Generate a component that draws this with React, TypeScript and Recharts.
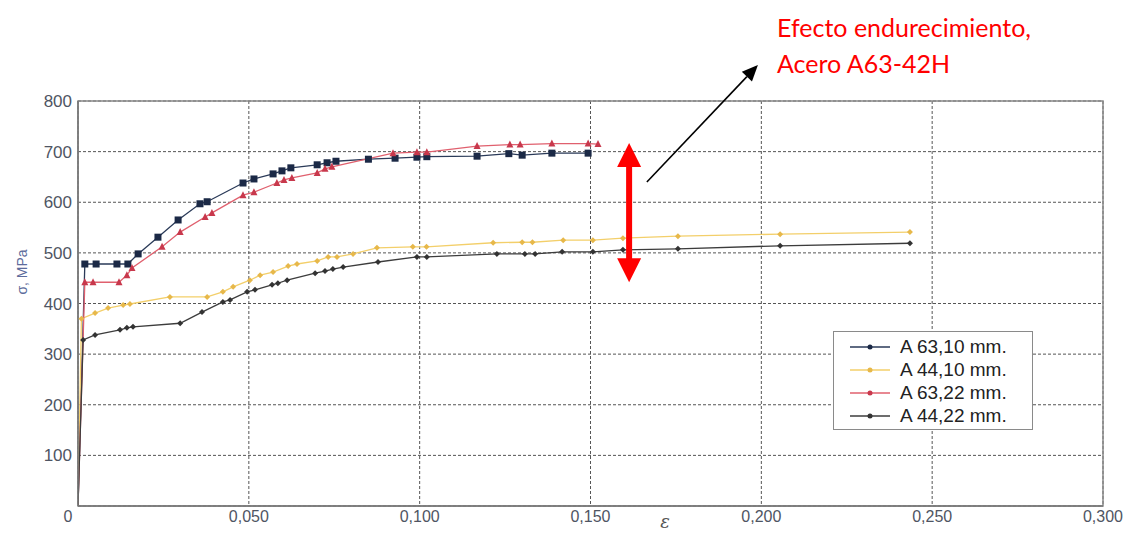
import React from 'react';
import { LineChart, Line, XAxis, YAxis, CartesianGrid, ReferenceArea, ReferenceLine } from 'recharts';

// strain (ε) ticks and stress (MPa) ticks
const X_TICKS = [0, 0.05, 0.1, 0.15, 0.2, 0.25, 0.3];
const Y_TICKS = [0, 100, 200, 300, 400, 500, 600, 700, 800];

// [ε, σ]; each curve starts at the origin
const A63_10 = [
  [0, 0], [0.002, 478], [0.0053, 478], [0.0114, 478], [0.0146, 478], [0.0176, 498], [0.0234, 531],
  [0.0293, 565], [0.0357, 597], [0.0378, 601], [0.0483, 638], [0.0515, 646], [0.0571, 656],
  [0.0597, 662], [0.0623, 668], [0.07, 674], [0.0729, 678], [0.0755, 681], [0.085, 685],
  [0.0928, 687], [0.0992, 689], [0.1021, 690], [0.1168, 691], [0.1261, 696], [0.13, 693],
  [0.1387, 697], [0.1493, 697],
];
const A44_10 = [
  [0, 0], [0.001, 370], [0.005, 381], [0.0088, 391], [0.0132, 397], [0.0152, 399], [0.0269, 413],
  [0.0378, 413], [0.0424, 423], [0.0454, 433], [0.0503, 446], [0.0533, 456], [0.0571, 462],
  [0.0615, 474], [0.0641, 478], [0.07, 484], [0.0732, 492], [0.0758, 492], [0.0805, 498],
  [0.0875, 510], [0.098, 512], [0.102, 512], [0.1215, 520], [0.13, 521], [0.133, 521],
  [0.142, 525], [0.1507, 525], [0.1595, 529], [0.1756, 533], [0.2055, 537], [0.2435, 541],
];
const A63_22 = [
  [0, 0], [0.002, 442], [0.0044, 442], [0.012, 442], [0.0143, 456], [0.0158, 470], [0.0246, 512],
  [0.0299, 541], [0.0372, 571], [0.0392, 579], [0.0483, 614], [0.0515, 620], [0.0582, 638],
  [0.0603, 644], [0.0626, 648], [0.07, 658], [0.0723, 666], [0.0743, 670], [0.0922, 697],
  [0.0992, 699], [0.1021, 699], [0.1168, 711], [0.1264, 714], [0.1294, 714], [0.1387, 716],
  [0.1493, 716], [0.1522, 715],
];
const A44_22 = [
  [0, 0], [0.0015, 328], [0.005, 338], [0.0123, 348], [0.0143, 352], [0.0161, 354], [0.0299, 361],
  [0.0363, 383], [0.0424, 403], [0.0445, 407], [0.0495, 423], [0.0518, 427], [0.0568, 437],
  [0.0585, 440], [0.0612, 446], [0.0694, 460], [0.0723, 464], [0.0746, 468], [0.0776, 472],
  [0.0878, 482], [0.0992, 492], [0.1021, 492], [0.1226, 498], [0.1308, 498], [0.1338, 498],
  [0.1417, 502], [0.1507, 502], [0.1595, 506], [0.1756, 508], [0.2055, 514], [0.2435, 519],
];

const SERIES = [
  { name: 'A 63,10 mm.', data: A63_10, line: '#2a3a58', fill: '#1b2946', marker: 'square' },
  { name: 'A 44,10 mm.', data: A44_10, line: '#f3cf6a', fill: '#e7b84a', marker: 'diamond' },
  { name: 'A 63,22 mm.', data: A63_22, line: '#e0606e', fill: '#c8384c', marker: 'triangle' },
  { name: 'A 44,22 mm.', data: A44_22, line: '#3c3c3c', fill: '#333333', marker: 'diamond' },
];

const toPoints = (arr: number[][]) => arr.map(([x, y]) => ({ x, y }));

const fmtX = (v: number) => (v === 0 ? '0' : v.toFixed(3).replace('.', ','));

const TICK_FONT = '"Liberation Sans", Arial, sans-serif';

const makeDot = (marker: string, fill: string) => (props: any) => {
  const { cx, cy, index, payload } = props;
  const key = `d-${index}`;
  if (payload.y === 0 || cx == null) return <g key={key} />;
  if (marker === 'square') {
    return <rect key={key} x={cx - 3.5} y={cy - 3.5} width={7} height={7} fill={fill} />;
  }
  if (marker === 'triangle') {
    return <polygon key={key} points={`${cx},${cy - 4} ${cx + 3.5},${cy + 3} ${cx - 3.5},${cy + 3}`} fill={fill} />;
  }
  return <polygon key={key} points={`${cx},${cy - 3} ${cx + 3},${cy} ${cx},${cy + 3} ${cx - 3},${cy}`} fill={fill} />;
};

const XTick = (props: any) => {
  const { x, y, payload } = props;
  const dx = payload.value === 0 ? -10 : 0;
  return (
    <text x={x + dx} y={y} dy="0.71em" textAnchor="middle" fill="#4f5563" fontSize={16} fontFamily={TICK_FONT}>
      {fmtX(payload.value)}
    </text>
  );
};

const YTick = (props: any) => {
  const { x, y, payload } = props;
  if (payload.value === 0) return <g />;
  return (
    <text x={x} y={y} dy="0.36em" textAnchor="end" fill="#4f5563" fontSize={17} fontFamily={TICK_FONT}>
      {payload.value}
    </text>
  );
};

// thick red double-headed arrow
const DoubleArrow = (p: any) => {
  const { x1, y1, y2 } = p;
  const x = x1;
  const top = Math.min(y1, y2);
  const bot = Math.max(y1, y2);
  const head = 24;
  const hw = 12;
  return (
    <g>
      <rect x={x - 3} y={top + head - 2} width={6} height={bot - top - 2 * head + 4} fill="#ff0000" />
      <polygon points={`${x},${top} ${x + hw},${top + head} ${x - hw},${top + head}`} fill="#ff0000" />
      <polygon points={`${x},${bot} ${x + hw},${bot - head} ${x - hw},${bot - head}`} fill="#ff0000" />
    </g>
  );
};

// thin black pointer arrow
const Pointer = (p: any) => {
  const { x1, y1, x2, y2 } = p;
  const ang = Math.atan2(y2 - y1, x2 - x1);
  const len = 16;
  const w = 7;
  const bx = x2 - len * Math.cos(ang);
  const by = y2 - len * Math.sin(ang);
  const nx = -Math.sin(ang) * w;
  const ny = Math.cos(ang) * w;
  return (
    <g>
      <line x1={x1} y1={y1} x2={bx} y2={by} stroke="#000" strokeWidth={1.6} />
      <polygon points={`${x2},${y2} ${bx + nx},${by + ny} ${bx - nx},${by - ny}`} fill="#000" />
    </g>
  );
};

export default function App() {
  return (
    <div style={{ position: 'absolute', left: 0, top: 0, width: 1144, height: 536, background: '#fff', overflow: 'hidden' }}>
      <LineChart width={1144} height={536} margin={{ top: 101, right: 41, bottom: 0, left: 18 }}>
        <CartesianGrid stroke="#555" strokeDasharray="3 2" strokeWidth={1} />
        <XAxis
          type="number"
          dataKey="x"
          domain={[0, 0.3]}
          ticks={X_TICKS}
          height={30}
          tickLine={false}
          tickSize={0}
          tickMargin={5}
          axisLine={{ stroke: '#777', strokeWidth: 1.5 }}
          tick={<XTick />}
          allowDataOverflow
        />
        <YAxis
          type="number"
          dataKey="y"
          domain={[0, 800]}
          ticks={Y_TICKS}
          width={60}
          tickLine={false}
          tickSize={0}
          tickMargin={6}
          axisLine={{ stroke: '#777', strokeWidth: 1.5 }}
          tick={<YTick />}
          allowDataOverflow
        />
        <ReferenceArea x1={0} x2={0.3} y1={0} y2={800} fill="none" stroke="#888" strokeWidth={1.5} />
        {SERIES.map((s) => (
          <Line
            key={s.name}
            data={toPoints(s.data)}
            dataKey="y"
            name={s.name}
            type="linear"
            stroke={s.line}
            strokeWidth={1.3}
            dot={makeDot(s.marker, s.fill)}
            activeDot={false}
            isAnimationActive={false}
          />
        ))}
        <ReferenceLine
          segment={[{ x: 0.1613, y: 442 }, { x: 0.1613, y: 717 }]}
          ifOverflow="visible"
          shape={DoubleArrow}
        />
        <ReferenceLine
          segment={[{ x: 0.1665, y: 640 }, { x: 0.199, y: 871 }]}
          ifOverflow="visible"
          shape={Pointer}
        />
      </LineChart>

      {/* y axis label */}
      <div
        style={{
          position: 'absolute',
          left: 22,
          top: 272,
          transform: 'translate(-50%, -50%) rotate(-90deg)',
          fontFamily: TICK_FONT,
          fontSize: 14,
          color: '#5d6c9c',
          whiteSpace: 'nowrap',
        }}
      >
        σ, MPa
      </div>

      {/* x axis label */}
      <div
        style={{
          position: 'absolute',
          left: 665,
          top: 522,
          transform: 'translate(-50%, -50%)',
          fontFamily: '"DejaVu Serif", serif',
          fontStyle: 'italic',
          fontSize: 18,
          lineHeight: '20px',
          color: '#555',
        }}
      >
        ε
      </div>

      {/* annotation */}
      <div
        style={{
          position: 'absolute',
          left: 777,
          top: 9,
          fontFamily: 'Lato, "Open Sans", sans-serif',
          fontSize: 25,
          lineHeight: '36px',
          color: '#ff0000',
          whiteSpace: 'nowrap',
        }}
      >
        <div>Efecto endurecimiento,</div>
        <div>Acero A63-42H</div>
      </div>

      {/* legend */}
      <div
        style={{
          position: 'absolute',
          left: 833,
          top: 331,
          width: 200,
          height: 99,
          boxSizing: 'border-box',
          border: '1.5px solid #8a8a8a',
          background: '#fff',
          padding: '3px 0 0 16px',
          fontFamily: TICK_FONT,
          fontSize: 19,
          color: '#222',
        }}
      >
        {SERIES.map((s) => (
          <div key={s.name} style={{ display: 'flex', alignItems: 'center', height: 23 }}>
            <svg width={40} height={10} style={{ marginRight: 10, flexShrink: 0 }}>
              <line x1={0} y1={5} x2={40} y2={5} stroke={s.line} strokeWidth={1.3} />
              <circle cx={20} cy={5} r={2.5} fill={s.fill} />
            </svg>
            <span style={{ whiteSpace: 'nowrap' }}>{s.name}</span>
          </div>
        ))}
      </div>
    </div>
  );
}
